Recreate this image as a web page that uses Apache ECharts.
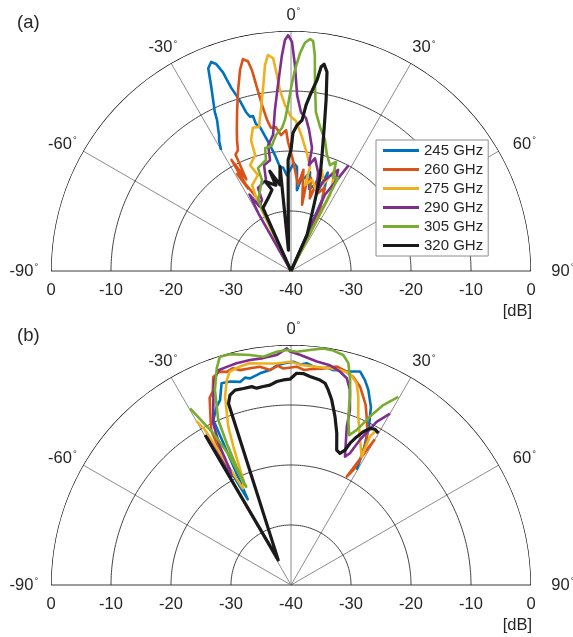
<!DOCTYPE html>
<html>
<head>
<meta charset="utf-8">
<script src="https://cdn.jsdelivr.net/npm/echarts@6/dist/echarts.min.js"></script>
<style>
  html, body { margin: 0; padding: 0; background: #ffffff; }
  #chart { width: 573px; height: 637px; }
</style>
</head>
<body>
<div id="chart"></div>
<script>
// Measured radiation patterns, two antenna configurations.
// Each pattern is a list of [angle in degrees, normalised level in dB].
const FREQS = ['245 GHz', '260 GHz', '275 GHz', '290 GHz', '305 GHz', '320 GHz'];
const COLORS = ['#0072BD', '#D95319', '#EDB120', '#7E2F8E', '#77AC30', '#1a1a1a'];
const ANGLE_TICKS = [-90, -60, -30, 0, 30, 60, 90];
const RING_LEVELS = [-30, -20, -10];
const DB_TICK_LABELS = ['0', '-10', '-20', '-30', '-40', '-30', '-20', '-10', '0'];
const DB_TICK_VALUES = [0, -10, -20, -30, -40, -30, -20, -10, 0];
const DB_TICK_SIDES = [-90, -90, -90, -90, -90, 90, 90, 90, 90];
const PANEL_TAGS = ['(a)', '(b)'];

// ---- (a) ----
const a245 = [[-30.0,-16.7],[-28.9,-15.2],[-27.9,-14.4],[-27.3,-13.6],[-26.1,-12.0],[-25.6,-10.6],[-24.5,-8.7],[-23.3,-6.3],[-22.2,-3.5],[-20.9,-2.7],[-19.9,-3.3],[-18.9,-5.0],[-18.1,-7.8],[-16.7,-10.4],[-15.8,-12.5],[-14.9,-13.4],[-13.8,-13.4],[-13.4,-14.8],[-12.1,-15.5],[-10.9,-17.1],[-9.5,-18.7],[-7.9,-20.5],[-6.0,-22.6],[-4.4,-22.7],[-2.5,-24.0],[-0.6,-23.2],[1.5,-22.0],[3.3,-22.6],[4.2,-26.5],[6.5,-24.5],[8.6,-24.3],[10.9,-23.2],[12.5,-26.0],[15.6,-25.1],[16.5,-23.0],[18.5,-26.0],[20.5,-22.5],[23.6,-27.1],[24.0,-40]];
const a260 = [[-24.0,-40],[-24.5,-27.0],[-29.0,-21.5],[-27.5,-24.5],[-28.2,-19.0],[-26.0,-23.0],[-25.5,-18.5],[-23.7,-18.0],[-22.5,-16.5],[-21.0,-14.8],[-18.5,-11.7],[-16.3,-8.6],[-14.2,-5.4],[-12.8,-3.8],[-11.6,-4.3],[-11.0,-5.9],[-10.5,-9.0],[-9.9,-11.9],[-9.0,-14.5],[-8.0,-15.9],[-6.0,-15.9],[-4.2,-17.3],[-2.0,-16.5],[-1.3,-18.5],[1.0,-21.5],[4.7,-25.6],[7.0,-23.0],[9.5,-28.8],[9.9,-25.5],[12.1,-24.1],[14.5,-27.5],[16.5,-24.2],[18.5,-26.5],[22.0,-25.0],[25.4,-28.7],[25.0,-40]];
const a275 = [[-25.0,-40],[-25.6,-26.9],[-24.4,-24.3],[-19.0,-23.1],[-21.1,-21.1],[-17.2,-19.8],[-17.0,-17.2],[-14.9,-15.3],[-12.5,-15.4],[-10.6,-12.7],[-8.7,-9.2],[-7.2,-5.4],[-6.1,-3.8],[-4.8,-4.4],[-4.1,-7.3],[-3.5,-9.8],[-2.1,-12.3],[0.0,-14.3],[1.9,-15.0],[4.7,-17.6],[7.7,-20.2],[10.4,-22.4],[9.2,-25.5],[13.0,-24.4],[17.2,-25.9],[17.1,-22.4],[20.5,-24.5],[23.5,-21.6],[27.2,-25.8],[27.0,-40]];
const a290 = [[-29.0,-40],[-29.5,-29.0],[-28.5,-25.5],[-26.0,-28.0],[-22.2,-27.2],[-21.7,-25.1],[-15.4,-24.3],[-14.3,-21.8],[-10.7,-21.2],[-10.3,-18.7],[-7.5,-17.1],[-5.7,-13.0],[-4.0,-8.9],[-2.4,-4.0],[-1.5,-1.5],[-0.7,-0.7],[0.25,-1.8],[1.1,-5.7],[2.0,-10.7],[3.6,-13.5],[5.6,-14.4],[7.3,-16.3],[9.7,-19.2],[9.6,-22.1],[12.0,-20.8],[15.3,-22.9],[18.0,-26.0],[20.0,-24.0],[22.3,-22.9],[25.0,-21.4],[26.5,-23.5],[28.5,-20.1],[24.0,-26.1],[24.0,-40]];
const a305 = [[-24.0,-40],[-24.9,-27.0],[-17.7,-24.1],[-17.8,-22.0],[-12.7,-21.0],[-11.9,-19.1],[-8.6,-18.8],[-6.3,-17.2],[-3.6,-16.1],[-2.3,-14.8],[-1.0,-12.3],[0.0,-9.5],[1.1,-6.5],[2.4,-3.6],[3.5,-1.9],[4.7,-1.2],[5.5,-1.5],[6.3,-3.8],[7.35,-8.75],[8.9,-13.2],[11.4,-15.5],[14.55,-17.45],[17.2,-19.75],[20.2,-21.2],[22.4,-20.35],[24.3,-23.0],[26.8,-22.6],[27.0,-40]];
const a320 = [[-24.0,-40],[-24.0,-28.5],[-17.5,-27.3],[-13.2,-26.1],[-16.0,-24.5],[-10.0,-25.5],[-12.0,-23.0],[-7.3,-25.5],[-6.0,-22.5],[-7.0,-36.5],[-1.5,-21.5],[0.0,-19.8],[0.8,-17.0],[2.35,-15.7],[4.2,-14.8],[5.2,-12.2],[6.2,-10.5],[7.75,-7.9],[8.4,-5.6],[9.1,-5.1],[10.25,-6.3],[11.6,-10.9],[13.2,-15.9],[15.0,-20.0],[17.3,-23.8],[19.2,-28.4],[24.0,-33.4],[20.0,-40]];

// ---- (b) ----
const b245 = [[-28.5,-14.0],[-26.8,-24.0],[-25.2,-9.6],[-22.6,-7.8],[-21.0,-7.0],[-19.0,-4.45],[-16.7,-4.6],[-14.1,-5.1],[-12.5,-4.6],[-11.2,-4.9],[-8.3,-4.35],[-5.6,-4.0],[-3.5,-3.3],[-2.0,-3.05],[0.6,-2.8],[2.5,-3.2],[4.05,-2.95],[6.0,-3.4],[7.6,-3.6],[9.5,-3.3],[11.1,-3.5],[13.0,-3.2],[14.6,-3.25],[16.5,-2.9],[17.9,-2.6],[19.85,-3.7],[21.6,-5.0],[23.1,-6.5],[24.2,-7.5],[25.1,-9.0],[26.2,-10.5],[27.0,-12.25],[28.0,-14.0],[28.9,-16.2],[29.7,-17.9]];
const b260 = [[-29.7,-16.7],[-28.6,-17.8],[-27.3,-11.0],[-25.5,-8.8],[-23.5,-6.0],[-22.0,-5.2],[-20.5,-3.0],[-18.5,-2.5],[-16.8,-2.9],[-15.0,-2.6],[-13.3,-3.2],[-10.7,-3.25],[-8.1,-3.25],[-5.6,-4.0],[-3.5,-3.4],[-2.0,-3.9],[1.5,-3.6],[3.5,-4.1],[5.0,-3.9],[8.5,-3.5],[11.8,-2.8],[13.7,-3.1],[16.65,-3.8],[19.2,-5.0],[21.0,-6.4],[22.5,-7.5],[24.2,-9.25],[26.0,-11.0],[27.6,-12.7],[28.85,-15.6],[28.45,-18.2],[27.2,-19.7],[29.9,-12.0]];
const b275 = [[-30.0,-8.4],[-29.0,-10.45],[-26.5,-22.0],[-24.5,-21.0],[-23.4,-17.9],[-22.6,-15.0],[-21.6,-11.6],[-19.3,-6.75],[-17.4,-4.2],[-16.0,-3.0],[-13.15,-2.6],[-10.5,-2.4],[-7.1,-2.8],[-3.7,-3.0],[-0.3,-2.8],[3.2,-3.3],[6.7,-3.4],[10.2,-3.3],[12.8,-3.25],[15.6,-3.4],[18.0,-4.65],[19.7,-6.7],[21.8,-9.8],[25.45,-13.2],[28.85,-15.6],[28.0,-12.0],[28.9,-10.5]];
const b290 = [[-29.6,-11.6],[-28.7,-19.4],[-27.9,-18.3],[-27.2,-14.1],[-25.7,-10.1],[-22.4,-6.05],[-20.5,-3.5],[-18.7,-2.2],[-16.4,-2.1],[-13.8,-1.95],[-10.3,-1.9],[-7.0,-1.9],[-3.6,-1.6],[-1.0,-0.55],[-0.25,-1.1],[2.2,-1.6],[6.6,-2.5],[10.05,-2.8],[12.9,-3.5],[15.1,-4.3],[16.8,-6.05],[18.6,-9.2],[19.4,-12.0],[22.8,-16.8],[24.1,-15.95],[25.4,-13.2],[27.7,-9.3],[30.0,-7.0]];
const b305 = [[-29.75,-6.1],[-27.1,-11.6],[-25.5,-16.0],[-24.8,-21.0],[-24.5,-22.0],[-24.7,-18.3],[-24.4,-14.1],[-23.8,-9.95],[-21.3,-5.1],[-18.9,-1.8],[-17.3,-0.15],[-14.8,-0.2],[-10.1,-1.07],[-6.9,-1.67],[-3.5,-1.05],[-1.05,-0.83],[1.4,-1.1],[4.6,-0.7],[7.8,-0.2],[10.2,-0.3],[12.8,-0.7],[14.5,-1.8],[16.1,-4.45],[17.4,-7.1],[18.8,-10.4],[21.2,-13.2],[23.0,-11.9],[25.1,-9.0],[27.15,-6.3],[29.7,-3.9]];
const b320 = [[-29.8,-11.2],[-27.0,-35.3],[-19.0,-8.0],[-17.8,-6.75],[-16.0,-6.2],[-13.6,-6.3],[-11.2,-6.3],[-9.9,-6.7],[-7.95,-6.6],[-6.0,-6.5],[-4.0,-6.0],[-2.15,-5.8],[-0.3,-5.7],[1.5,-4.7],[3.3,-4.7],[5.2,-5.1],[8.05,-5.5],[9.6,-5.9],[10.8,-6.9],[12.4,-8.4],[14.65,-11.0],[16.8,-13.6],[18.7,-16.25],[20.4,-16.6],[21.8,-15.8],[22.6,-14.4],[23.9,-13.0],[25.25,-11.75],[26.8,-10.75],[28.35,-10.5],[29.9,-10.8]];

const PANEL_DATA = [
  [a245, a260, a275, a290, a305, a320],
  [b245, b260, b275, b290, b305, b320]
];

const FONT = '"Liberation Sans", Arial, Helvetica, sans-serif';
const TEXT = '#262626';
const CENTERS = [[291, 271], [291, 585]];
const RADIUS = 240;

const chart = echarts.init(document.getElementById('chart'), null, { renderer: 'canvas' });

const polar = CENTERS.map(c => ({ center: c, radius: RADIUS }));
const angleAxis = CENTERS.map((c, i) => ({
  polarIndex: i, type: 'value', min: -180, max: 180, interval: 30,
  startAngle: 270, clockwise: true,
  axisLine: { show: false }, axisTick: { show: false },
  axisLabel: { show: false }, splitLine: { show: false }
}));
const radiusAxis = CENTERS.map((c, i) => ({
  polarIndex: i, type: 'value', min: -40, max: 0,
  axisLine: { show: false }, axisTick: { show: false },
  axisLabel: { show: false }, splitLine: { show: false }
}));

const series = [];
function gridLine(i, data, color, width) {
  series.push({
    type: 'line', coordinateSystem: 'polar', polarIndex: i, silent: true,
    symbol: 'none', showSymbol: false, clip: false, z: 1,
    lineStyle: { color: color, width: width }, data: data
  });
}
CENTERS.forEach((c, i) => {
  // spokes, including the ±90° baseline
  ANGLE_TICKS.forEach(t => {
    const edge = Math.abs(t) === 90;
    gridLine(i, [[-40, t], [0, t]], edge ? '#3a3a3a' : '#6e6e6e', edge ? 1 : 0.8);
  });
  // constant-level rings
  RING_LEVELS.forEach(l => {
    const pts = [];
    for (let a = -90; a <= 90; a += 1) pts.push([l, a]);
    gridLine(i, pts, '#303030', 0.9);
  });
  const outer = [];
  for (let a = -90; a <= 90; a += 0.5) outer.push([0, a]);
  gridLine(i, outer, '#000000', 1.3);

  PANEL_DATA[i].forEach((pattern, k) => {
    series.push({
      name: FREQS[k], type: 'line', coordinateSystem: 'polar', polarIndex: i,
      symbol: 'none', showSymbol: false, clip: false, z: 3 + k,
      color: COLORS[k],
      lineStyle: { color: COLORS[k], width: k === 5 ? 3.2 : 2.6, join: 'round' },
      data: pattern.map(([ang, db]) => [Math.max(db, -40), ang])
    });
  });
});

chart.setOption({
  animation: false,
  backgroundColor: '#ffffff',
  textStyle: { fontFamily: FONT },
  polar: polar,
  angleAxis: angleAxis,
  radiusAxis: radiusAxis,
  legend: {
    data: FREQS,
    orient: 'vertical',
    left: 376, top: 140,
    padding: [3, 5, 3, 7],
    itemGap: 4,
    itemWidth: 36, itemHeight: 3,
    icon: 'rect',
    backgroundColor: '#ffffff',
    borderColor: '#8c8c8c', borderWidth: 1,
    textStyle: { fontFamily: FONT, fontSize: 15, color: TEXT, lineHeight: 15 }
  },
  series: series
});

// Angle labels, radial level labels, unit and panel tags, placed through the polar systems
const graphics = [];
CENTERS.forEach((c, i) => {
  const o = chart.convertToPixel({ polarIndex: i }, [-40, 0]);
  ANGLE_TICKS.forEach(t => {
    const e = chart.convertToPixel({ polarIndex: i }, [0, t]);
    const dx = e[0] - o[0], dy = e[1] - o[1];
    const r = Math.hypot(dx, dy);
    const sn = Math.abs(dx) / r, cs = Math.abs(dy) / r;
    const s = (r + 16 + 13.5 * sn) / r;
    graphics.push({
      type: 'text', x: o[0] + dx * s - Math.sign(dx) * 2 * sn * cs, y: o[1] + dy * s + 18.7 * sn * sn * cs, silent: true,
      style: {
        text: '{h|°}{n|' + t + '}{d|°}',
        align: 'center', verticalAlign: 'middle',
        rich: {
          n: { fontFamily: FONT, fontSize: 16.5, fill: TEXT, color: TEXT },
          d: { fontFamily: FONT, fontSize: 9.5, fill: TEXT, color: TEXT, verticalAlign: 'top', padding: [0, 0, 6, 1] },
          h: { fontFamily: FONT, fontSize: 9.5, fill: 'rgba(0,0,0,0)', color: 'rgba(0,0,0,0)', padding: [0, 1, 6, 0] }
        }
      }
    });
  });
  DB_TICK_VALUES.forEach((v, j) => {
    const p = chart.convertToPixel({ polarIndex: i }, [v, DB_TICK_SIDES[j]]);
    graphics.push({
      type: 'text', x: p[0], y: p[1] + 19, silent: true,
      style: { text: DB_TICK_LABELS[j], align: 'center', verticalAlign: 'middle',
               font: '16.5px ' + FONT, fill: TEXT }
    });
  });
  const pEnd = chart.convertToPixel({ polarIndex: i }, [0, 90]);
  graphics.push({
    type: 'text', x: pEnd[0] + 1, y: pEnd[1] + 40, silent: true,
    style: { text: '[dB]', align: 'right', verticalAlign: 'middle', font: '16.5px ' + FONT, fill: TEXT }
  });
  graphics.push({
    type: 'text', x: 17, y: o[1] - 248 + (i === 0 ? 0 : -1), silent: true,
    style: { text: PANEL_TAGS[i], align: 'left', verticalAlign: 'middle', font: '18.5px ' + FONT, fill: TEXT }
  });
});
chart.setOption({ graphic: graphics });
</script>
</body>
</html>
